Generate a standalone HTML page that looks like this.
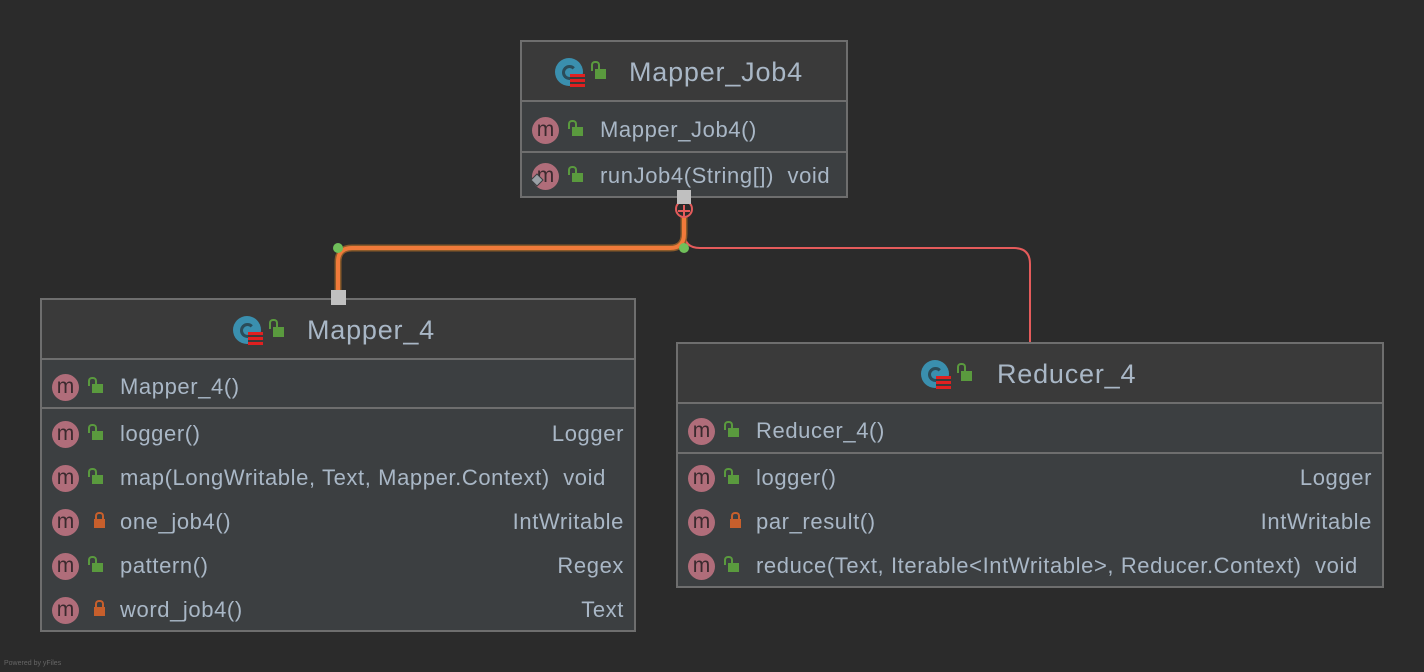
<!DOCTYPE html>
<html><head><meta charset="utf-8"><style>
body{margin:0;width:1424px;height:672px;background:#2b2b2b;position:relative;overflow:hidden;font-family:"Liberation Sans","DejaVu Sans",sans-serif;color:#a9b7c6}
.box{position:absolute;border:2px solid #6e6e6e;background:#3c3f41;box-sizing:border-box}
.hd{position:absolute;left:0;right:0;top:0;height:58px;background:#3a3a3a;border-bottom:2px solid #6e6e6e}
.title{position:absolute;top:15px;font-size:27px;letter-spacing:0.8px;white-space:nowrap}
.sep{position:absolute;left:0;right:0;height:2px;background:#6e6e6e}
.row{position:absolute;left:0;right:0;height:44px;font-size:22px;letter-spacing:0.6px;line-height:43px;white-space:nowrap}
.m{position:absolute;left:10px;top:9px;width:27px;height:27px;border-radius:50%;background:#b06d7a;color:#3b2a2e;font-size:21px;line-height:25px;text-align:center;letter-spacing:0}
.lk{position:absolute;left:50px;top:19px;width:11px;height:9px;background:#5a9a3e}
.lk:before{content:"";position:absolute;left:-4px;top:-7px;width:5px;height:7px;border:2px solid #5a9a3e;border-bottom:none;border-radius:4px 4px 0 0}
.lk.p{background:#c75f2c;left:52px}
.lk.p:before{border-color:#c75f2c;left:1px;width:5px}
.nm{position:absolute;left:78px}
.ty{position:absolute;right:10px}
.ci{position:absolute;width:28px;height:28px;border-radius:50%;background:#3a8fae}
.ci:after{content:"";position:absolute;left:7px;top:7px;width:9px;height:9px;border:3px solid #2b4c59;border-right-color:transparent;border-radius:50%}
.ci i{position:absolute;left:15px;top:16px;width:15px;height:13px;background:repeating-linear-gradient(#e02020 0 3px,#3a3a3a 3px 5px);z-index:1}
.hl{position:absolute;width:11px;height:10px;background:#5a9a3e}
.hl:before{content:"";position:absolute;left:-4px;top:-8px;width:5px;height:8px;border:2px solid #5a9a3e;border-bottom:none;border-radius:4px 4px 0 0}
svg.top{z-index:5}
</style></head><body>

<svg width="1424" height="672" style="position:absolute;left:0;top:0">
<path d="M684 220 V232 Q684 248 700 248 H1014 Q1030 248 1030 264 V343" fill="none" stroke="#e55b5b" stroke-width="2"/>
<path d="M684 205 V234 Q684 248 670 248 H352 Q338 248 338 262 V298" fill="none" stroke="#8a5a2a" stroke-width="7"/>
<path d="M684 205 V234 Q684 248 670 248 H352 Q338 248 338 262 V298" fill="none" stroke="#f07a3a" stroke-width="4"/>
<circle cx="338" cy="248" r="5" fill="#6fbf5a"/>
<circle cx="684" cy="248" r="5" fill="#6fbf5a"/>
</svg>

<!-- Mapper_Job4 -->
<div class="box" style="left:520px;top:40px;width:328px;height:158px">
 <div class="hd"><div class="ci" style="left:33px;top:16px"><i></i></div><div class="hl" style="left:73px;top:27px"></div><div class="title" style="left:107px">Mapper_Job4</div></div>
 <div class="row" style="top:66px"><div class="m">m</div><div class="lk"></div><div class="nm">Mapper_Job4()</div></div>
 <div class="sep" style="top:109px"></div>
 <div class="row" style="top:112px"><div class="m">m</div><div class="lk"></div><div class="nm">runJob4(String[])&nbsp; void</div></div>
</div>

<!-- Mapper_4 -->
<div class="box" style="left:40px;top:298px;width:596px;height:334px">
 <div class="hd"><div class="ci" style="left:191px;top:16px"><i></i></div><div class="hl" style="left:231px;top:27px"></div><div class="title" style="left:265px">Mapper_4</div></div>
 <div class="row" style="top:65px"><div class="m">m</div><div class="lk"></div><div class="nm">Mapper_4()</div></div>
 <div class="sep" style="top:107px"></div>
 <div class="row" style="top:112px"><div class="m">m</div><div class="lk"></div><div class="nm">logger()</div><div class="ty">Logger</div></div>
 <div class="row" style="top:156px"><div class="m">m</div><div class="lk"></div><div class="nm">map(LongWritable, Text, Mapper.Context)&nbsp; void</div></div>
 <div class="row" style="top:200px"><div class="m">m</div><div class="lk p"></div><div class="nm">one_job4()</div><div class="ty">IntWritable</div></div>
 <div class="row" style="top:244px"><div class="m">m</div><div class="lk"></div><div class="nm">pattern()</div><div class="ty">Regex</div></div>
 <div class="row" style="top:288px"><div class="m">m</div><div class="lk p"></div><div class="nm">word_job4()</div><div class="ty">Text</div></div>
</div>

<!-- Reducer_4 -->
<div class="box" style="left:676px;top:342px;width:708px;height:246px">
 <div class="hd"><div class="ci" style="left:243px;top:16px"><i></i></div><div class="hl" style="left:283px;top:27px"></div><div class="title" style="left:319px">Reducer_4</div></div>
 <div class="row" style="top:65px"><div class="m">m</div><div class="lk"></div><div class="nm">Reducer_4()</div></div>
 <div class="sep" style="top:108px"></div>
 <div class="row" style="top:112px"><div class="m">m</div><div class="lk"></div><div class="nm">logger()</div><div class="ty">Logger</div></div>
 <div class="row" style="top:156px"><div class="m">m</div><div class="lk p"></div><div class="nm">par_result()</div><div class="ty">IntWritable</div></div>
 <div class="row" style="top:200px"><div class="m">m</div><div class="lk"></div><div class="nm">reduce(Text, Iterable&lt;IntWritable&gt;, Reducer.Context)&nbsp; void</div></div>
</div>

<svg class="top" width="1424" height="672" style="position:absolute;left:0;top:0">
<circle cx="684" cy="209" r="8" fill="#2b2b2b" stroke="#e55b5b" stroke-width="2"/>
<path d="M678 211 H690 M684 205 V217" stroke="#e55b5b" stroke-width="2"/>
<rect x="677" y="190" width="14" height="14" fill="#c0c0c0"/>
<rect x="331" y="290" width="15" height="15" fill="#c0c0c0"/>
<path d="M537 174 l6 6 l-6 6 l-6 -6 z" fill="#9aa0a6" stroke="#3c3f41" stroke-width="1"/>
</svg>

<div style="position:absolute;left:4px;top:660px;font-size:7px;color:#666">Powered by yFiles</div>
</body></html>
